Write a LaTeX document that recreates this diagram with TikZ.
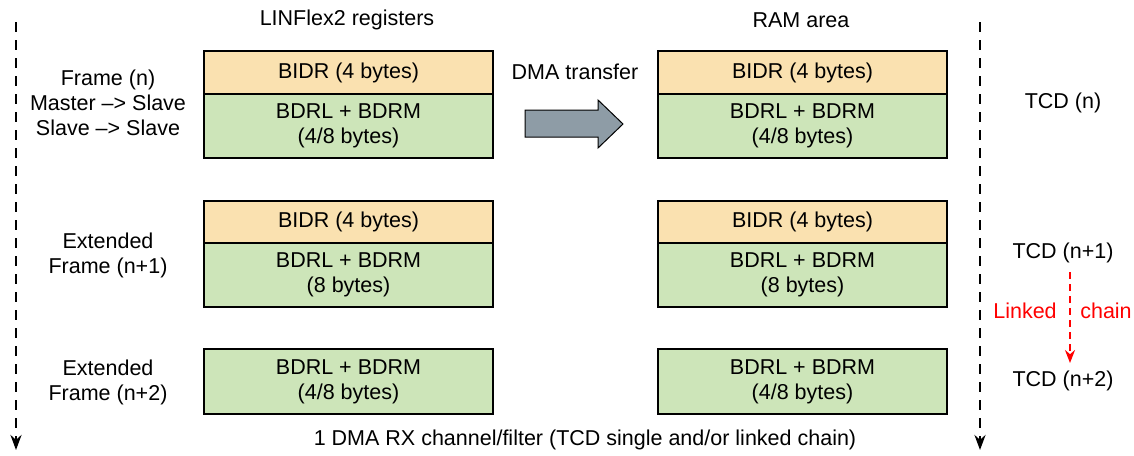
\documentclass[tikz,border=0pt]{standalone}
\usepackage{fontspec}
\setmainfont{Liberation Sans}
\usetikzlibrary{arrows.meta}
\definecolor{bidr}{RGB}{250,225,176}
\definecolor{bdr}{RGB}{205,229,185}
\definecolor{arrowfill}{RGB}{142,156,166}
\begin{document}
\begin{tikzpicture}[x=1pt,y=-1pt,
  every node/.style={font=\fontsize{21.5}{25}\selectfont, inner sep=0pt},
  regbox/.style={draw=black, line width=2pt, minimum width=289pt, align=center},
  idbox/.style={regbox, fill=bidr, minimum height=43pt},
  databox/.style={regbox, fill=bdr},
  lbl/.style={align=center},
  timeline/.style={line width=2.5pt, dash pattern=on 10pt off 8pt, -{Stealth[length=15pt,width=11pt]}},
  chainarrow/.style={red, line width=1.8pt, dash pattern=on 7pt off 5pt, -{Stealth[length=13pt,width=10pt]}},
  redlbl/.style={text=red}
]
\useasboundingbox (0,0) rectangle (1134,455);

% timelines
\coordinate (lt) at (16,22);
\coordinate (lb) at (16,450);
\coordinate (rt) at (980,22);
\coordinate (rb) at (980,450);
\draw[timeline] (lt) -- (lb);
\draw[timeline] (rt) -- (rb);

% headers
\node (hl) at (347,20) {LINFlex2 registers};
\node (hr) at (801,20) {RAM area};

% frame n
\node[idbox, anchor=north west] (l1a) at (203,50) {BIDR (4 bytes)};
\node[databox, anchor=north west, minimum height=64pt] (l1b) at (203,93) {BDRL + BDRM\\(4/8 bytes)};
\node[idbox, anchor=north west] (r1a) at (657,50) {BIDR (4 bytes)};
\node[databox, anchor=north west, minimum height=64pt] (r1b) at (657,93) {BDRL + BDRM\\(4/8 bytes)};

% frame n+1
\node[idbox, anchor=north west, minimum height=42pt] (l2a) at (203,200) {BIDR (4 bytes)};
\node[databox, anchor=north west, minimum height=64pt] (l2b) at (203,242) {BDRL + BDRM\\(8 bytes)};
\node[idbox, anchor=north west, minimum height=42pt] (r2a) at (657,200) {BIDR (4 bytes)};
\node[databox, anchor=north west, minimum height=64pt] (r2b) at (657,242) {BDRL + BDRM\\(8 bytes)};

% frame n+2
\node[databox, anchor=north west, minimum height=65pt] (l3) at (203,348) {BDRL + BDRM\\(4/8 bytes)};
\node[databox, anchor=north west, minimum height=65pt] (r3) at (657,348) {BDRL + BDRM\\(4/8 bytes)};

% left labels
\node[lbl] (f1) at (108,103) {Frame (n)\\Master --> Slave\\Slave --> Slave};
\node[lbl] (f2) at (108,255) {Extended\\Frame (n+1)};
\node[lbl] (f3) at (108,382) {Extended\\Frame (n+2)};

% DMA transfer
\node (dma) at (575,72) {DMA transfer};
\draw[line width=1pt, fill=arrowfill] (525,110) -- (598,110) -- (598,100) -- (623,124) -- (598,148) -- (598,137) -- (525,137) -- cycle;

% TCDs
\node (t1) at (1063,103) {TCD (n)};
\node (t2) at (1063,253) {TCD (n+1)};
\node (t3) at (1063,381) {TCD (n+2)};
\coordinate (ca) at (1070,272);
\coordinate (cb) at (1070,363);
\draw[chainarrow] (ca) -- (cb);
\node[redlbl] (lk) at (1025,311) {Linked};
\node[redlbl] (ch) at (1106,311) {chain};

% bottom
\node (bottom) at (585,440) {1 DMA RX channel/filter (TCD single and/or linked chain)};
\end{tikzpicture}
\end{document}
